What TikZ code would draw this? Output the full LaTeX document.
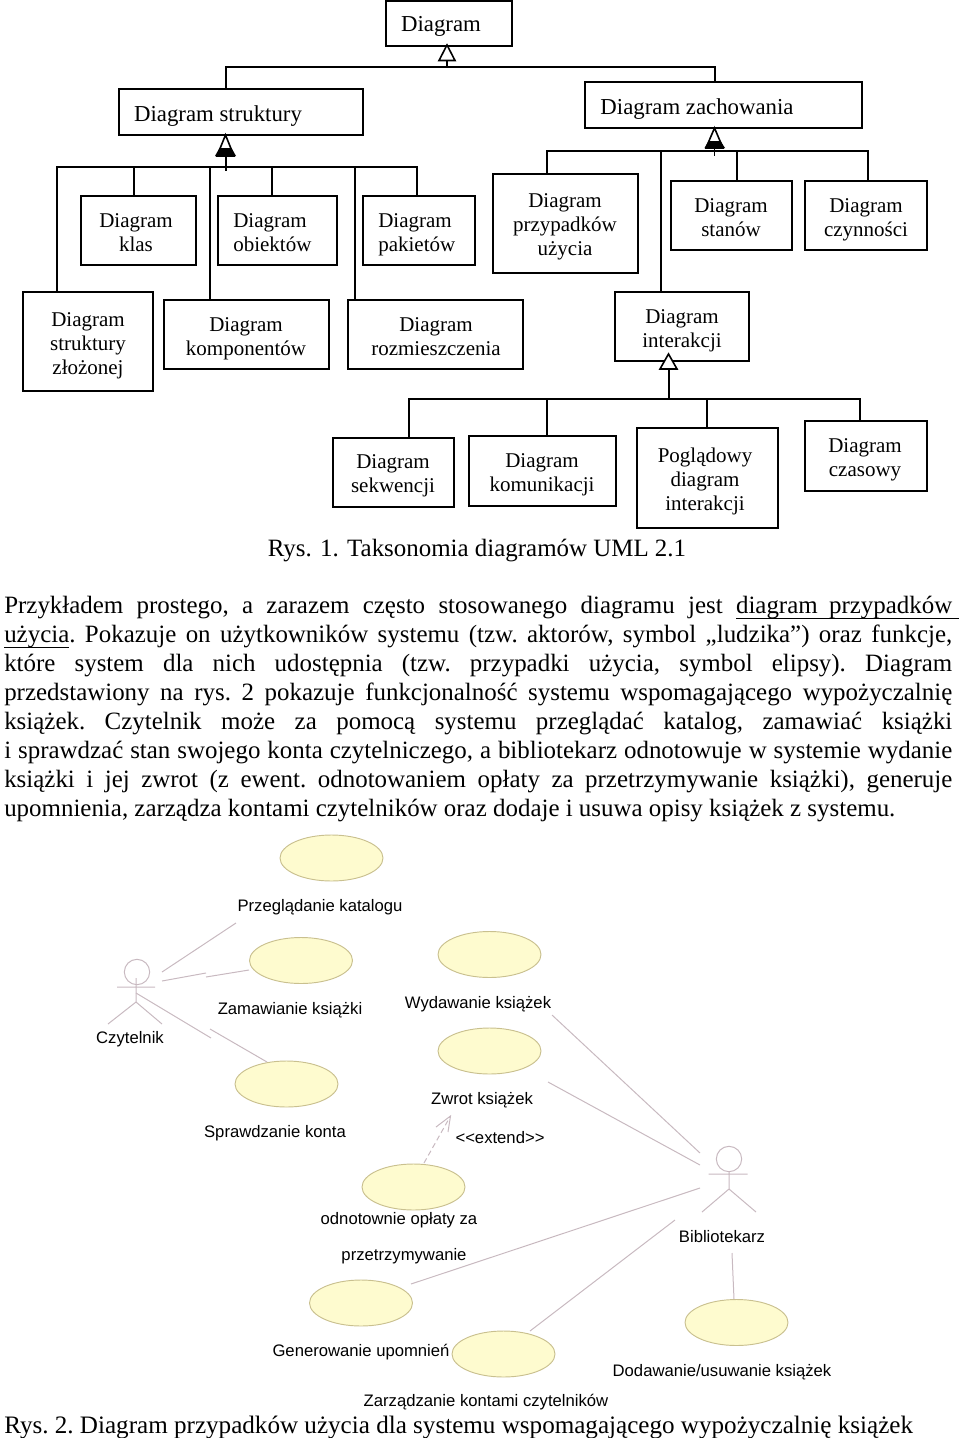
\documentclass[tikz,border=0pt]{standalone}
\usepackage{fontspec}
\setmainfont{Liberation Serif}
\newfontfamily\arialf{Liberation Sans}
\usetikzlibrary{fit,shapes.geometric}
\definecolor{usefill}{HTML}{FEFBCF}
\definecolor{usedraw}{HTML}{C9C08F}
\definecolor{assoc}{HTML}{C8B9C0}
\newcommand\ls{\rule[-5.4pt]{0pt}{18pt}}
\newcommand\ulin[1]{\underline{\smash{#1}\rule[-2pt]{0pt}{0pt}}}
\tikzset{
  x=0.75pt,y=-0.75pt,
  tree/.style={line width=1.4pt,black},
  boxs/.style={draw=black,line width=1.6pt,inner sep=0pt,outer sep=0pt,fill=white},
  boxtext/.style={inner sep=0pt,align=center,font=\fontsize{15.75pt}{18pt}\selectfont},
  boxleft/.style={inner sep=0pt,align=left,font=\fontsize{15.75pt}{18pt}\selectfont},
  boxbig/.style={inner sep=0pt,align=center,font=\fontsize{17.1pt}{18pt}\selectfont},
  usecase/.style={draw=usedraw,fill=usefill,line width=0.7pt,ellipse,inner sep=0pt,minimum width=77.25pt,minimum height=34.5pt},
  assocl/.style={draw=assoc,line width=0.75pt},
  uml/.style={inner sep=0pt,anchor=base,font=\arialf\fontsize{12.5pt}{14pt}\selectfont},
  gen/.style={draw=black,line width=1.2pt,fill=white,line join=miter},
}
\begin{document}
\begin{tikzpicture}
\useasboundingbox (0,0) rectangle (960,1438);
% boxes
\node[boxs,fit={(386,1) (512,46)}] (root) {};
\node[boxs,fit={(119,89) (363,135)}] (stru) {};
\node[boxs,fit={(585,82) (862,128)}] (zach) {};
\node[boxs,fit={(81,196) (196,265)}] (klas) {};
\node[boxs,fit={(218,196) (337,265)}] (obie) {};
\node[boxs,fit={(363,196) (475,265)}] (paki) {};
\node[boxs,fit={(493,174) (638,273)}] (przy) {};
\node[boxs,fit={(671,181) (792,250)}] (stan) {};
\node[boxs,fit={(805,181) (927,250)}] (czyn) {};
\node[boxs,fit={(23,292) (153,391)}] (zloz) {};
\node[boxs,fit={(164,300) (329,369)}] (komp) {};
\node[boxs,fit={(348,300) (523,369)}] (rozm) {};
\node[boxs,fit={(615,292) (749,361)}] (inte) {};
\node[boxs,fit={(333,438) (454,507)}] (sekw) {};
\node[boxs,fit={(469,436) (616,506)}] (komu) {};
\node[boxs,fit={(637,428) (778,528)}] (pogl) {};
\node[boxs,fit={(805,421) (927,491)}] (czas) {};
% box texts
\node[boxbig] (rootT) at (441,27) {\ls Diagram};
\node[boxbig] (struT) at (218,117) {\ls Diagram struktury};
\node[boxbig] (zachT) at (697,110) {\ls Diagram zachowania};
\node[boxtext] (klasT) at (136,235) {\ls Diagram\\klas\ls};
\node[boxleft,anchor=west] (obieT) at (233,235) {\ls Diagram\\obiektów\ls};
\node[boxleft,anchor=west] (pakiT) at (378,235) {\ls Diagram\\pakietów\ls};
\node[boxtext] (przyT) at (565,227) {\ls Diagram\\przypadków\\użycia\ls};
\node[boxtext] (stanT) at (731,220) {\ls Diagram\\stanów\ls};
\node[boxtext] (czynT) at (866,220) {\ls Diagram\\czynności\ls};
\node[boxtext] (zlozT) at (88,346) {\ls Diagram\\struktury\\złożonej\ls};
\node[boxtext] (kompT) at (246,339) {\ls Diagram\\komponentów\ls};
\node[boxtext] (rozmT) at (436,339) {\ls Diagram\\rozmieszczenia\ls};
\node[boxtext] (inteT) at (682,331) {\ls Diagram\\interakcji\ls};
\node[boxtext] (sekwT) at (393,476) {\ls Diagram\\sekwencji\ls};
\node[boxtext] (komuT) at (542,475) {\ls Diagram\\komunikacji\ls};
\node[boxtext] (poglT) at (705,482) {\ls Poglądowy\\diagram\\interakcji\ls};
\node[boxtext] (czasT) at (865,460) {\ls Diagram\\czasowy\ls};
% tree 1
\coordinate (b0) at (447,67);
\coordinate (b0a) at (226,67);
\coordinate (b0b) at (715,67);
\draw[tree] (stru.north -| b0a) -- (b0a) -- (b0b) -- (zach.north -| b0b);
\draw[tree] (root.south -| b0) -- (b0);
\draw[gen] (447,45) -- (439,60.5) -- (455,60.5) -- cycle;
% tree 2
\coordinate (s0) at (226,171);
\coordinate (s1) at (57,167);
\coordinate (s2) at (134,167);
\coordinate (s3) at (210,167);
\coordinate (s4) at (272,167);
\coordinate (s5) at (355,167);
\coordinate (s6) at (417,167);
\draw[tree] (s1 |- zloz.north) -- (s1) -- (s6) -- (s6 |- paki.north);
\draw[tree] (s2) -- (s2 |- klas.north);
\draw[tree] (s3) -- (s3 |- komp.north);
\draw[tree] (s4) -- (s4 |- obie.north);
\draw[tree] (s5) -- (s5 |- rozm.north);
\draw[tree] (stru.south -| s0) -- (s0);
\draw[gen] (225.5,135) -- (217,156) -- (234,156) -- cycle;
\fill[black] (219.5,148) -- (231.5,148) -- (236,156) -- (215,156) -- cycle;
% tree 3
\coordinate (z0) at (714.5,156);
\coordinate (z1) at (547,151);
\coordinate (z2) at (661,151);
\coordinate (z3) at (737,151);
\coordinate (z4) at (868,151);
\draw[tree] (z1 |- przy.north) -- (z1) -- (z4) -- (z4 |- czyn.north);
\draw[tree] (z2) -- (z2 |- inte.north);
\draw[tree] (z3) -- (z3 |- stan.north);
\draw[tree] (zach.south -| z0) -- (z0);
\draw[gen] (714.5,128) -- (706,148) -- (723,148) -- cycle;
\fill[black] (708.5,141) -- (720.5,141) -- (725,148) -- (704.5,148) -- cycle;
% tree 4
\coordinate (i0) at (669,399);
\coordinate (i1) at (409,399);
\coordinate (i2) at (547,399);
\coordinate (i3) at (707,399);
\coordinate (i4) at (860,399);
\draw[tree] (i1 |- sekw.north) -- (i1) -- (i4) -- (i4 |- czas.north);
\draw[tree] (i2) -- (i2 |- komu.north);
\draw[tree] (i3) -- (i3 |- pogl.north);
\draw[tree] (inte.south -| i0) -- (i0);
\draw[gen] (668.5,354) -- (660,369) -- (677,369) -- cycle;
% captions and paragraph
\node[inner sep=0pt,anchor=base] (cap1) at (477,556) {\fontsize{18.7pt}{20pt}\selectfont Rys. 1. Taksonomia diagramów UML 2.1};
\node[inner sep=0pt,anchor=north west,text width=711pt,align=justify,font=\fontsize{18.7pt}{21.75pt}\selectfont] (para) at (4,596) {%
\frenchspacing\hyphenpenalty=10000\tolerance=10000\hbadness=10000\hfuzz=30pt\parindent=0pt
Przykładem prostego, a zarazem często stosowanego diagramu jest \ulin{diagram\hspace{8.5pt}przypadków}\rlap{\ulin{\hspace{5pt}}}\linebreak
\ulin{użycia}. Pokazuje on użytkowników systemu (tzw. aktorów, symbol „ludzika”) oraz funkcje,\linebreak
które system dla nich udostępnia (tzw. przypadki użycia, symbol elipsy). Diagram\linebreak
przedstawiony na rys. 2 pokazuje funkcjonalność systemu wspomagającego wypożyczalnię\linebreak
książek. Czytelnik może za pomocą systemu przeglądać katalog, zamawiać książki\linebreak
i sprawdzać stan swojego konta czytelniczego, a bibliotekarz odnotowuje w systemie wydanie\linebreak
książki i jej zwrot (z ewent. odnotowaniem opłaty za przetrzymywanie książki), generuje\linebreak
upomnienia, zarządza kontami czytelników oraz dodaje i usuwa opisy książek z systemu.};
\node[inner sep=0pt,anchor=base west] (cap2) at (4,1433) {\frenchspacing\fontsize{18.83pt}{20pt}\selectfont Rys. 2. Diagram przypadków użycia dla systemu wspomagającego wypożyczalnię książek};
% use cases
\node[usecase] (e1) at (331.5,858) {};
\node[usecase] (e2) at (301,960.5) {};
\node[usecase] (e3) at (489.5,954.5) {};
\node[usecase] (e4) at (489.5,1051) {};
\node[usecase] (e5) at (286.5,1084) {};
\node[usecase] (e6) at (413.5,1187) {};
\node[usecase] (e7) at (361,1303) {};
\node[usecase] (e8) at (503.5,1354) {};
\node[usecase] (e9) at (736.5,1322.5) {};
% labels
\node[uml] (l1) at (320,911) {Przeglądanie katalogu};
\node[uml] (l2) at (290,1014) {Zamawianie książki};
\node[uml] (l3) at (478,1008) {Wydawanie książek};
\node[uml] (l4) at (130,1043) {Czytelnik};
\node[uml] (l5) at (482,1104) {Zwrot książek};
\node[uml] (l6) at (275,1137) {Sprawdzanie konta};
\node[uml] (l7) at (500,1143) {<{}<extend>{}>};
\node[uml] (l8) at (399,1224) {odnotownie opłaty za};
\node[uml] (l9) at (404,1260) {przetrzymywanie};
\node[uml] (l10) at (722,1242) {Bibliotekarz};
\node[uml] (l11) at (361,1356) {Generowanie upomnień};
\node[uml] (l12) at (722,1376) {Dodawanie/usuwanie książek};
\node[uml] (l13) at (486,1406) {Zarządzanie kontami czytelników};
% actors
\node[draw=assoc,line width=0.75pt,circle,inner sep=0pt,minimum size=19pt] (h1) at (137,972) {};
\coordinate (a1l) at (117,987);
\coordinate (a1r) at (155,987);
\coordinate (a1h) at (136,1002);
\coordinate (a1f) at (108,1024);
\coordinate (a1g) at (162,1024);
\draw[assocl] (136,978) -- (a1h) (a1l) -- (a1r) (a1f) -- (a1h) -- (a1g);
\node[draw=assoc,line width=0.75pt,circle,inner sep=0pt,minimum size=19pt] (h2) at (729,1159) {};
\coordinate (a2l) at (708.6,1174);
\coordinate (a2r) at (747.5,1174);
\coordinate (a2h) at (729,1189);
\coordinate (a2f) at (702,1212);
\coordinate (a2g) at (756,1212);
\draw[assocl] (h2.south) -- (a2h) (a2l) -- (a2r) (a2f) -- (a2h) -- (a2g);
% associations
\coordinate (c1a) at (162,972); \coordinate (c1b) at (236,923);
\coordinate (c2a) at (162,981); \coordinate (c2b) at (206,973);
\coordinate (c2c) at (206,977); \coordinate (c2d) at (249,970);
\coordinate (c3a) at (136,993); \coordinate (c3b) at (211,1038);
\coordinate (c3c) at (210,1029); \coordinate (c3d) at (267,1062);
\coordinate (c4a) at (548,1082); \coordinate (c4b) at (700,1165);
\coordinate (c5a) at (552,1015); \coordinate (c5b) at (700,1153);
\coordinate (c6a) at (700,1188); \coordinate (c6b) at (411,1284);
\coordinate (c7a) at (675,1220); \coordinate (c7b) at (530,1331);
\coordinate (c8a) at (732,1253); \coordinate (c8b) at (734,1299);
\draw[assocl] (c1a) -- (c1b);
\draw[assocl] (c2a) -- (c2b);
\draw[assocl] (c2c) -- (c2d);
\draw[assocl] (c3a) -- (c3b);
\draw[assocl] (c3c) -- (c3d);
\draw[assocl] (c4a) -- (c4b);
\draw[assocl] (c5a) -- (c5b);
\draw[assocl] (c6a) -- (c6b);
\draw[assocl] (c7a) -- (c7b);
\draw[assocl] (c8a) -- (c8b);
% extend
\coordinate (x0) at (424,1163);
\coordinate (x1) at (450.5,1116);
\coordinate (x2) at (436,1127);
\coordinate (x3) at (448,1132);
\draw[assocl,dashed,dash pattern=on 4pt off 2.5pt] (x0) -- (x1);
\draw[assocl] (x2) -- (x1) -- (x3);
\end{tikzpicture}
\end{document}
